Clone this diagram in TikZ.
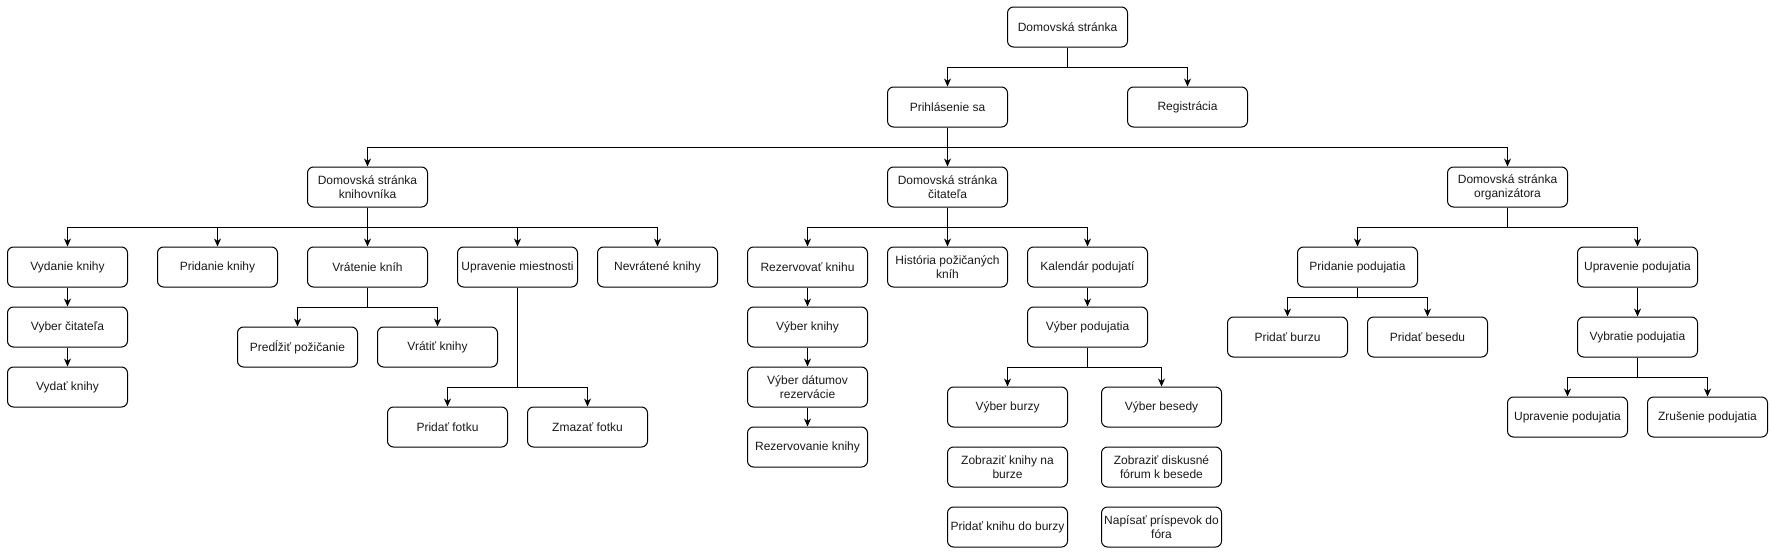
\documentclass[tikz,border=0pt]{standalone}
\usepackage{fontspec}
\setmainfont{Liberation Sans}
\usetikzlibrary{arrows.meta}
\tikzset{
  box/.style={draw=black, line width=1pt, rounded corners=6pt, minimum width=120pt,
    minimum height=40pt, inner xsep=0pt, inner ysep=1pt, align=center,
    font=\fontsize{12}{14}\selectfont, text=black!90},
  arr/.style={draw=black, line width=1pt, -{Stealth[length=8pt,width=7pt,inset=2.5pt]}},
  ln/.style={draw=black, line width=1pt}
}
\begin{document}
\begin{tikzpicture}[x=1pt,y=-1pt]
\useasboundingbox (0,0) rectangle (1771,552);
% nodes
\node[box] (home) at (1067.5,27) {Domovská stránka};
\node[box] (login) at (947.5,107) {Prihlásenie sa};
\node[box] (reg) at (1187.5,107) {Registrácia};
\node[box] (lib) at (367.5,187) {Domovská stránka\\knihovníka};
\node[box] (rdr) at (947.5,187) {Domovská stránka\\čitateľa};
\node[box] (org) at (1507.5,187) {Domovská stránka\\organizátora};
\node[box] (vyd) at (67.5,267) {Vydanie knihy};
\node[box] (prid) at (217.5,267) {Pridanie knihy};
\node[box] (vrat) at (367.5,267) {Vrátenie kníh};
\node[box] (uprm) at (517.5,267) {Upravenie miestnosti};
\node[box] (nevr) at (657.5,267) {Nevrátené knihy};
\node[box] (rez) at (807.5,267) {Rezervovať knihu};
\node[box] (hist) at (947.5,267) {História požičaných\\kníh};
\node[box] (kal) at (1087.5,267) {Kalendár podujatí};
\node[box] (pridp) at (1357.5,267) {Pridanie podujatia};
\node[box] (uprp) at (1637.5,267) {Upravenie podujatia};
\node[box] (vybc) at (67.5,327) {Vyber čitateľa};
\node[box] (vydk) at (67.5,387) {Vydať knihy};
\node[box] (predl) at (297.5,347) {Predĺžiť požičanie};
\node[box] (vratk) at (437.5,347) {Vrátiť knihy};
\node[box] (fotka) at (447.5,427) {Pridať fotku};
\node[box] (zmaz) at (587.5,427) {Zmazať fotku};
\node[box] (vybk) at (807.5,327) {Výber knihy};
\node[box] (vybd) at (807.5,387) {Výber dátumov\\rezervácie};
\node[box] (rezk) at (807.5,447) {Rezervovanie knihy};
\node[box] (vybp) at (1087.5,327) {Výber podujatia};
\node[box] (burzy) at (1007.5,407) {Výber burzy};
\node[box] (besedy) at (1161.5,407) {Výber besedy};
\node[box] (zobb) at (1007.5,467) {Zobraziť knihy na\\burze};
\node[box] (zobf) at (1161.5,467) {Zobraziť diskusné\\fórum k besede};
\node[box] (pridkb) at (1007.5,527) {Pridať knihu do burzy};
\node[box] (napis) at (1161.5,527) {Napísať príspevok do\\fóra};
\node[box] (pburzu) at (1287.5,337) {Pridať burzu};
\node[box] (pbesedu) at (1427.5,337) {Pridať besedu};
\node[box] (vybrp) at (1637.5,337) {Vybratie podujatia};
\node[box] (uprp2) at (1567.5,417) {Upravenie podujatia};
\node[box] (zrus) at (1707.5,417) {Zrušenie podujatia};
% connectors
\foreach \t in {login,reg} \draw[arr] (home.south) -- ++(0,20) -| (\t);
\foreach \t in {lib,rdr,org} \draw[arr] (login.south) -- ++(0,20) -| (\t);
\foreach \t in {vyd,prid,vrat,uprm,nevr} \draw[arr] (lib.south) -- ++(0,20) -| (\t);
\foreach \t in {rez,hist,kal} \draw[arr] (rdr.south) -- ++(0,20) -| (\t);
\foreach \t in {pridp,uprp} \draw[arr] (org.south) -- ++(0,20) -| (\t);
\draw[arr] (vyd) -- (vybc);
\draw[arr] (vybc) -- (vydk);
\foreach \t in {predl,vratk} \draw[arr] (vrat.south) -- ++(0,20) -| (\t);
\foreach \t in {fotka,zmaz} \draw[arr] (uprm.south) -- ++(0,100) -| (\t);
\draw[arr] (rez) -- (vybk);
\draw[arr] (vybk) -- (vybd);
\draw[arr] (vybd) -- (rezk);
\draw[arr] (kal) -- (vybp);
\foreach \t in {burzy,besedy} \draw[arr] (vybp.south) -- ++(0,20) -| (\t);
\foreach \t in {pburzu,pbesedu} \draw[arr] (pridp.south) -- ++(0,10) -| (\t);
\draw[arr] (uprp) -- (vybrp);
\foreach \t in {uprp2,zrus} \draw[arr] (vybrp.south) -- ++(0,20) -| (\t);
\end{tikzpicture}
\end{document}
